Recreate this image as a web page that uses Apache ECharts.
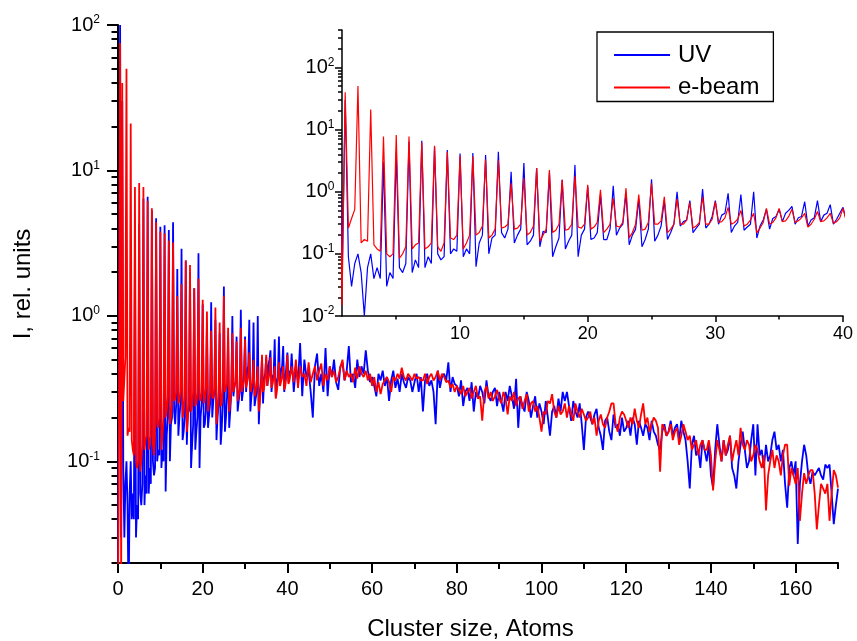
<!DOCTYPE html>
<html>
<head>
<meta charset="utf-8">
<script src="https://cdn.jsdelivr.net/npm/echarts@6/dist/echarts.min.js"></script>
<style>
  html, body { margin: 0; background: #fff; }
  #chart { width: 857px; height: 641px; }
</style>
</head>
<body>
<div id="chart"></div>
<script>
// sampling grid: 0..40.75 every 0.25 atoms, then 41..170 every 0.5 atoms
const lowStart = 0, lowStep = 0.25;
const highStart = 41, highStep = 0.5;

// rows: n, n+.25, n+.5, n+.75  (n = 0..40)
const uvLow = [
  0.02, 0.5, 100, 0.03,
  30, 0.09, 0.03, 0.07,
  0.1, 0.05, 0.01, 0.06,
  0.1, 0.04, 0.06, 0.04,
  3, 0.03, 0.05, 0.04,
  4.3, 0.06, 0.05, 0.07,
  6.4, 0.05, 0.08, 0.06,
  6.6, 0.06, 0.09, 0.07,
  5.3, 0.1, 0.08, 0.09,
  4.7, 0.1, 0.12, 0.11,
  4.1, 0.09, 0.12, 0.1,
  4.2, 0.062, 0.15, 0.2,
  3.9, 0.1, 0.18, 0.2,
  4.4, 0.22, 0.18, 0.25,
  2.1, 0.15, 0.2, 0.25,
  2.9, 0.14, 0.16, 0.2,
  2.4, 0.13, 0.23, 0.22,
  2.0, 0.09, 0.13, 0.18,
  1.55, 0.12, 0.16, 0.2,
  2.7, 0.09, 0.2, 0.25,
  1.2, 0.17, 0.18, 0.22,
  0.89, 0.17, 0.17, 0.25,
  1.24, 0.2, 0.26, 0.3,
  0.94, 0.14, 0.2, 0.25,
  0.76, 0.13, 0.17, 0.25,
  1.59, 0.16, 0.2, 0.28,
  0.72, 0.17, 0.22, 0.3,
  1.0, 0.28, 0.33, 0.35,
  0.72, 0.22, 0.26, 0.3,
  1.1, 0.26, 0.3, 0.4,
  0.72, 0.3, 0.42, 0.45,
  0.94, 0.22, 0.28, 0.32,
  0.9, 0.24, 0.27, 0.3,
  1.0, 0.18, 0.28, 0.35,
  0.52, 0.25, 0.37, 0.4,
  0.52, 0.33, 0.45, 0.5,
  0.58, 0.3, 0.38, 0.4,
  0.69, 0.28, 0.35, 0.38,
  0.72, 0.33, 0.42, 0.45,
  0.62, 0.3, 0.36, 0.45,
  0.56, 0.35, 0.42, 0.4
];

const ebeamLow = [
  0.01, 0.3, 75, 0.015,
  40, 0.26, 0.37, 0.52,
  50, 0.15, 0.17, 0.16,
  21, 0.14, 0.12, 0.11,
  7.7, 0.1, 0.09, 0.1,
  8.2, 0.085, 0.1, 0.13,
  7.7, 0.12, 0.14, 0.15,
  6.2, 0.12, 0.13, 0.15,
  5.5, 0.13, 0.11, 0.15,
  4.4, 0.18, 0.17, 0.2,
  3.8, 0.12, 0.15, 0.2,
  3.7, 0.2, 0.22, 0.28,
  3.3, 0.18, 0.2, 0.25,
  3.2, 0.26, 0.27, 0.3,
  1.37, 0.25, 0.26, 0.3,
  1.65, 0.2, 0.22, 0.28,
  2.4, 0.16, 0.2, 0.25,
  2.24, 0.22, 0.24, 0.3,
  1.55, 0.24, 0.25, 0.3,
  1.8, 0.27, 0.26, 0.3,
  1.29, 0.25, 0.27, 0.32,
  1.07, 0.22, 0.25, 0.3,
  0.79, 0.28, 0.27, 0.32,
  1.14, 0.18, 0.22, 0.3,
  0.9, 0.24, 0.25, 0.32,
  1.37, 0.3, 0.3, 0.34,
  0.83, 0.22, 0.25, 0.3,
  0.76, 0.3, 0.3, 0.35,
  0.67, 0.26, 0.28, 0.32,
  0.83, 0.3, 0.3, 0.36,
  0.69, 0.32, 0.33, 0.38,
  0.56, 0.3, 0.32, 0.36,
  0.5, 0.28, 0.3, 0.35,
  0.45, 0.22, 0.26, 0.32,
  0.54, 0.3, 0.32, 0.38,
  0.54, 0.33, 0.34, 0.4,
  0.52, 0.32, 0.34, 0.38,
  0.45, 0.27, 0.3, 0.36,
  0.48, 0.33, 0.34, 0.38,
  0.45, 0.31, 0.33, 0.38,
  0.54, 0.34, 0.36, 0.4
];

// rows: n, n+.5  (n = 41..169), then 170
const uvHigh = [
  0.55, 0.3, 0.45, 0.35, 0.65, 0.28, 0.5, 0.38, 0.42, 0.3,
  0.2, 0.45, 0.55, 0.33, 0.4, 0.3, 0.6, 0.28, 0.45, 0.38,
  0.5, 0.35, 0.31, 0.45, 0.48, 0.36, 0.42, 0.62, 0.35, 0.4,
  0.32, 0.5, 0.38, 0.45, 0.4, 0.58, 0.42, 0.35, 0.38, 0.33,
  0.28, 0.4, 0.36, 0.42, 0.33, 0.38, 0.26, 0.36, 0.42, 0.32,
  0.37, 0.3, 0.4, 0.35, 0.32, 0.38, 0.36, 0.3, 0.35, 0.4,
  0.3, 0.38, 0.22, 0.36, 0.4, 0.33, 0.36, 0.3, 0.18, 0.42,
  0.32, 0.38, 0.4, 0.36, 0.48, 0.3, 0.38, 0.34, 0.33, 0.28,
  0.36, 0.24, 0.3, 0.32, 0.26, 0.35, 0.22, 0.3, 0.27, 0.33,
  0.3, 0.25, 0.36, 0.28, 0.26, 0.3, 0.32, 0.24, 0.3, 0.26,
  0.22, 0.3, 0.26, 0.33, 0.28, 0.23, 0.37, 0.17, 0.28, 0.24,
  0.22, 0.3, 0.26, 0.2, 0.24, 0.28, 0.2, 0.25, 0.22, 0.18,
  0.26, 0.2, 0.15, 0.22, 0.24, 0.2, 0.27, 0.22, 0.3, 0.26,
  0.3, 0.24, 0.19, 0.26, 0.22, 0.2, 0.25, 0.18, 0.12, 0.2,
  0.22, 0.2, 0.18, 0.21, 0.23, 0.17, 0.15, 0.12, 0.19, 0.2,
  0.16, 0.14, 0.21, 0.17, 0.18, 0.15, 0.2, 0.16, 0.17, 0.19,
  0.15, 0.2, 0.18, 0.13, 0.19, 0.17, 0.15, 0.18, 0.17, 0.14,
  0.19, 0.16, 0.15, 0.13, 0.12, 0.16, 0.18, 0.15, 0.16, 0.19,
  0.15, 0.17, 0.18, 0.14, 0.19, 0.16, 0.14, 0.1, 0.065, 0.13,
  0.15, 0.11, 0.12, 0.09, 0.14, 0.12, 0.1, 0.13, 0.08, 0.066,
  0.12, 0.18, 0.13, 0.1, 0.14, 0.11, 0.12, 0.15, 0.09, 0.08,
  0.065, 0.1, 0.13, 0.16, 0.12, 0.09, 0.1, 0.14, 0.18, 0.08,
  0.18, 0.11, 0.12, 0.09, 0.13, 0.1, 0.11, 0.14, 0.16, 0.12,
  0.13, 0.1, 0.12, 0.07, 0.048, 0.09, 0.1, 0.08, 0.1, 0.027,
  0.07, 0.1, 0.13, 0.11, 0.08, 0.07, 0.085, 0.08, 0.085, 0.09,
  0.08, 0.075, 0.095, 0.09, 0.095, 0.06, 0.037, 0.05, 0.065
];

const ebeamHigh = [
  0.45, 0.35, 0.5, 0.32, 0.45, 0.38, 0.4, 0.33, 0.48, 0.35,
  0.4, 0.45, 0.36, 0.42, 0.47, 0.33, 0.4, 0.36, 0.45, 0.38,
  0.42, 0.35, 0.38, 0.44, 0.5, 0.36, 0.42, 0.38, 0.4, 0.35,
  0.44, 0.37, 0.45, 0.4, 0.38, 0.42, 0.36, 0.4, 0.33, 0.38,
  0.3, 0.35, 0.29, 0.34, 0.36, 0.38, 0.35, 0.3, 0.38, 0.36,
  0.4, 0.37, 0.44, 0.38, 0.36, 0.4, 0.38, 0.36, 0.4, 0.37,
  0.38, 0.36, 0.36, 0.4, 0.34, 0.38, 0.4, 0.36, 0.38, 0.42,
  0.36, 0.4, 0.38, 0.35, 0.36, 0.32, 0.34, 0.3, 0.33, 0.31,
  0.29, 0.33, 0.28, 0.3, 0.32, 0.27, 0.3, 0.33, 0.27, 0.28,
  0.19, 0.3, 0.33, 0.27, 0.3, 0.26, 0.28, 0.31, 0.27, 0.25,
  0.3, 0.27, 0.21, 0.28, 0.26, 0.3, 0.24, 0.27, 0.28, 0.23,
  0.26, 0.29, 0.22, 0.25, 0.26, 0.22, 0.24, 0.2, 0.16, 0.22,
  0.21, 0.26, 0.25, 0.29, 0.22, 0.2, 0.24, 0.21, 0.22, 0.25,
  0.2, 0.24, 0.21, 0.19, 0.25, 0.22, 0.2, 0.23, 0.21, 0.19,
  0.2, 0.22, 0.18, 0.2, 0.15, 0.19, 0.21, 0.18, 0.17, 0.2,
  0.22, 0.25, 0.25, 0.18, 0.16, 0.2, 0.22, 0.21, 0.19, 0.17,
  0.2, 0.18, 0.23, 0.19, 0.17, 0.21, 0.25, 0.18, 0.2, 0.16,
  0.18, 0.2, 0.19, 0.17, 0.085, 0.18, 0.17, 0.15, 0.16, 0.18,
  0.14, 0.16, 0.17, 0.13, 0.15, 0.18, 0.16, 0.14, 0.15, 0.12,
  0.13, 0.14, 0.11, 0.13, 0.14, 0.12, 0.12, 0.14, 0.11, 0.063,
  0.1, 0.14, 0.12, 0.1, 0.14, 0.11, 0.13, 0.15, 0.1, 0.12,
  0.14, 0.11, 0.17, 0.13, 0.12, 0.14, 0.13, 0.1, 0.11, 0.13,
  0.12, 0.1, 0.09, 0.11, 0.046, 0.08, 0.1, 0.12, 0.09, 0.11,
  0.1, 0.08, 0.11, 0.13, 0.13, 0.068, 0.09, 0.08, 0.07, 0.09,
  0.039, 0.06, 0.083, 0.07, 0.08, 0.087, 0.087, 0.06, 0.034, 0.05,
  0.07, 0.065, 0.06, 0.07, 0.039, 0.06, 0.087, 0.08, 0.066
];

// axis tick values
const mainXTicks = [0, 20, 40, 60, 80, 100, 120, 140, 160];
const mainXMinor = [10, 30, 50, 70, 90, 110, 130, 150, 170];
const insetXTicks = [10, 20, 30, 40];
const insetXMinor = [5, 15, 25, 35];
const mainDecades = [-1, 0, 1, 2];
const insetDecades = [-2, -1, 0, 1, 2];

const FONT = 'Liberation Sans, Arial, sans-serif';
const BLUE = '#0000ff';
const RED = '#ff0000';

const toPairs = (low, high) =>
  low.map((v, i) => [lowStart + i * lowStep, v])
    .concat(high.map((v, i) => [highStart + i * highStep, v]));

const uvData = toPairs(uvLow, uvHigh);
const ebeamData = toPairs(ebeamLow, ebeamHigh);

// log10 positions of 2..9 inside every decade of [lo, hi]
const minorLog = (lo, hi) => {
  const out = [];
  for (let d = Math.floor(Math.log10(lo)); d <= Math.ceil(Math.log10(hi)); d++) {
    for (let k = 2; k <= 9; k++) {
      const v = k * Math.pow(10, d);
      if (v >= lo * 0.999 && v <= hi * 1.001) out.push(Math.log10(v));
    }
  }
  return out;
};

const supLabel = (size) => ({
  show: true,
  color: '#000',
  formatter: (v) => '{b|10}{s|' + Math.round(v) + '}',
  rich: {
    b: { fontSize: size, lineHeight: size + 2, fontFamily: FONT, color: '#000' },
    s: { fontSize: 12, lineHeight: 10, verticalAlign: 'top', fontFamily: FONT, color: '#000' }
  }
});

// axis that only carries ticks (and maybe labels), never its own line
const tickAxis = (opts) => Object.assign({
  type: 'value',
  axisLine: { show: false, onZero: false },
  splitLine: { show: false },
  axisLabel: { show: false },
  silent: true
}, opts);

const mainYMin = 0.02, mainYMax = 100;
const insetYMin = 0.01, insetYMax = 400;
const insetXMin = 0.75, insetXMax = 40;

const option = {
  animation: false,
  backgroundColor: '#fff',
  grid: [
    { left: 118, top: 25, width: 720, height: 538, outerBoundsMode: 'none' },
    { left: 342, top: 30, width: 501, height: 286, outerBoundsMode: 'none' }
  ],
  xAxis: [
    {
      type: 'value', gridIndex: 0, position: 'bottom', min: 0, max: 170,
      axisLine: { onZero: false, lineStyle: { color: '#000', width: 2 } },
      axisTick: { customValues: mainXTicks, length: 10, lineStyle: { color: '#000', width: 2 } },
      axisLabel: { customValues: mainXTicks, fontSize: 20, fontFamily: FONT, color: '#000', margin: 16 },
      splitLine: { show: false }
    },
    tickAxis({
      gridIndex: 0, position: 'bottom', min: 0, max: 170,
      axisTick: { customValues: mainXMinor, length: 6, lineStyle: { color: '#000', width: 2 } }
    }),
    {
      type: 'value', gridIndex: 1, position: 'bottom', min: insetXMin, max: insetXMax,
      axisLine: { onZero: false, lineStyle: { color: '#000', width: 1.5 } },
      axisTick: { customValues: insetXTicks, length: 6, lineStyle: { color: '#000', width: 1.5 } },
      axisLabel: { customValues: insetXTicks, fontSize: 18, fontFamily: FONT, color: '#000', margin: 9 },
      splitLine: { show: false }
    },
    tickAxis({
      gridIndex: 1, position: 'bottom', min: insetXMin, max: insetXMax,
      axisTick: { customValues: insetXMinor, length: 3.5, lineStyle: { color: '#000', width: 1.5 } }
    })
  ],
  yAxis: [
    {
      type: 'log', logBase: 10, gridIndex: 0, position: 'left', min: mainYMin, max: mainYMax,
      axisLine: { onZero: false, lineStyle: { color: '#000', width: 2 } },
      axisTick: { show: false }, axisLabel: { show: false }, splitLine: { show: false }
    },
    tickAxis({
      gridIndex: 0, position: 'left', min: Math.log10(mainYMin), max: Math.log10(mainYMax),
      axisTick: { customValues: mainDecades, length: 11, lineStyle: { color: '#000', width: 2 } },
      axisLabel: Object.assign(supLabel(20), { customValues: mainDecades, margin: 18 })
    }),
    tickAxis({
      gridIndex: 0, position: 'left', min: Math.log10(mainYMin), max: Math.log10(mainYMax),
      axisTick: { customValues: minorLog(mainYMin, mainYMax), length: 6.5, lineStyle: { color: '#000', width: 2 } }
    }),
    {
      type: 'log', logBase: 10, gridIndex: 1, position: 'left', min: insetYMin, max: insetYMax,
      axisLine: { onZero: false, lineStyle: { color: '#000', width: 1.5 } },
      axisTick: { show: false }, axisLabel: { show: false }, splitLine: { show: false }
    },
    tickAxis({
      gridIndex: 1, position: 'left', min: Math.log10(insetYMin), max: Math.log10(insetYMax),
      axisTick: { customValues: insetDecades, length: 7, lineStyle: { color: '#000', width: 1.5 } },
      axisLabel: Object.assign(supLabel(20), { customValues: insetDecades, margin: 7.5 })
    }),
    tickAxis({
      gridIndex: 1, position: 'left', min: Math.log10(insetYMin), max: Math.log10(insetYMax),
      axisTick: { customValues: minorLog(insetYMin, insetYMax), length: 4, lineStyle: { color: '#000', width: 1.5 } }
    })
  ],
  legend: {
    data: ['UV', 'e-beam'],
    orient: 'vertical',
    left: 597, top: 32,
    icon: 'rect', itemWidth: 56, itemHeight: 2, itemGap: 8.5,
    itemStyle: { borderWidth: 0 },
    padding: [11, 14, 2, 17],
    borderColor: '#000', borderWidth: 1.3, backgroundColor: '#fff',
    textStyle: { fontSize: 24, fontFamily: FONT, color: '#000', padding: [0, 0, 0, 3] }
  },
  graphic: [
    {
      type: 'text', x: 470.5, y: 629,
      style: { text: 'Cluster size, Atoms', font: '24px ' + FONT, fill: '#000', textAlign: 'center', textVerticalAlign: 'middle' }
    },
    {
      type: 'text', x: 23, y: 284, rotation: Math.PI / 2,
      style: { text: 'I, rel. units', font: '24px ' + FONT, fill: '#000', textAlign: 'center', textVerticalAlign: 'middle' }
    }
  ],
  series: [
    {
      name: 'UV', type: 'line', xAxisIndex: 0, yAxisIndex: 0, data: uvData,
      showSymbol: false, color: BLUE, lineStyle: { width: 1.8 }, clip: true
    },
    {
      name: 'e-beam', type: 'line', xAxisIndex: 0, yAxisIndex: 0, data: ebeamData,
      showSymbol: false, color: RED, lineStyle: { width: 1.8 }, clip: true
    },
    {
      name: 'UV', type: 'line', xAxisIndex: 2, yAxisIndex: 3, data: uvData,
      showSymbol: false, color: BLUE, lineStyle: { width: 1.2 }, clip: true
    },
    {
      name: 'e-beam', type: 'line', xAxisIndex: 2, yAxisIndex: 3, data: ebeamData,
      showSymbol: false, color: RED, lineStyle: { width: 1.2 }, clip: true
    }
  ]
};

const chart = echarts.init(document.getElementById('chart'), null, { renderer: 'canvas' });
chart.setOption(option);
</script>
</body>
</html>
